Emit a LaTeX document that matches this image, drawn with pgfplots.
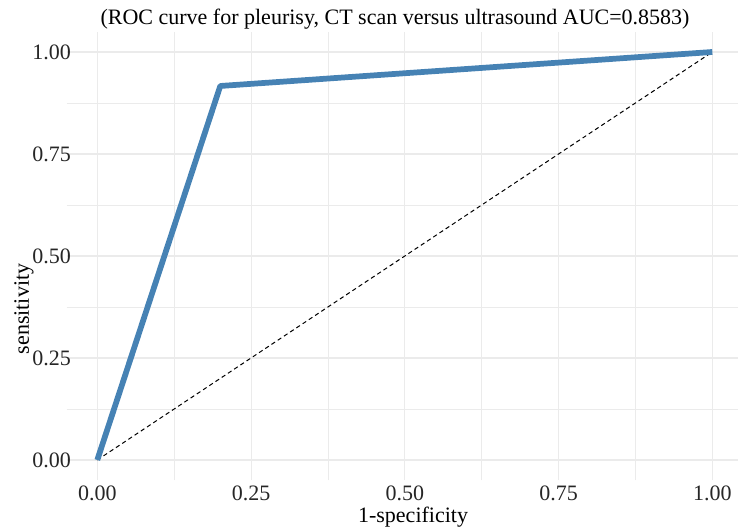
\documentclass[border=0pt]{standalone}
\usepackage{fontspec}
\setmainfont{Liberation Serif}
\usepackage{pgfplots}
\pgfplotsset{compat=1.18}
\definecolor{rocBlue}{HTML}{4682B4}
\definecolor{gridGrey}{HTML}{EBEBEB}

\begin{document}
\begin{tikzpicture}
\path[use as bounding box] (-49.9pt,-37.2pt) rectangle (503.6pt,360.3pt);
\begin{axis}[
  at={(0,0)},anchor=south west,
  scale only axis,
  width=507.4pt,height=336.6pt,
  xmin=-0.05,xmax=1.05,ymin=-0.05,ymax=1.05,
  axis line style={draw=none},
  major tick length=0pt,minor tick length=0pt,
  xtick={0,0.25,0.5,0.75,1},ytick={0,0.25,0.5,0.75,1},
  xticklabels={0.00,0.25,0.50,0.75,1.00},
  yticklabels={0.00,0.25,0.50,0.75,1.00},
  minor xtick={0.125,0.375,0.625,0.875},
  minor ytick={0.125,0.375,0.625,0.875},
  grid=both,
  major grid style={gridGrey,line width=0.8pt},
  minor grid style={gridGrey,line width=0.45pt},
  tick label style={font=\fontsize{16.5}{18}\selectfont,text=black!85},
  xticklabel style={inner sep=0pt,anchor=north,yshift=-4.2pt},
  yticklabel style={inner sep=0pt,anchor=east,xshift=3.4pt},
  clip=false,
]
\addplot[black,line width=0.75pt,dash pattern=on 3.2pt off 2.4pt] coordinates {(0,0)(1,1)};
\addplot[rocBlue,line width=4.3pt,line join=round] coordinates {(0,0)(0.2,0.9167)(1,1)};
\node[font=\fontsize{16.5}{18}\selectfont,anchor=base] at (axis description cs:0.4856,1.0147)
  {(ROC curve for pleurisy, CT scan versus ultrasound AUC=0.8583)};
\node[font=\fontsize{16.5}{18}\selectfont,anchor=base] at (axis description cs:0.5122,-0.0949) {1-specificity};
\node[font=\fontsize{16.5}{18}\selectfont,rotate=90,anchor=center] at (axis description cs:-0.0628,0.3819) {sensitivity};
\end{axis}
\end{tikzpicture}
\end{document}
